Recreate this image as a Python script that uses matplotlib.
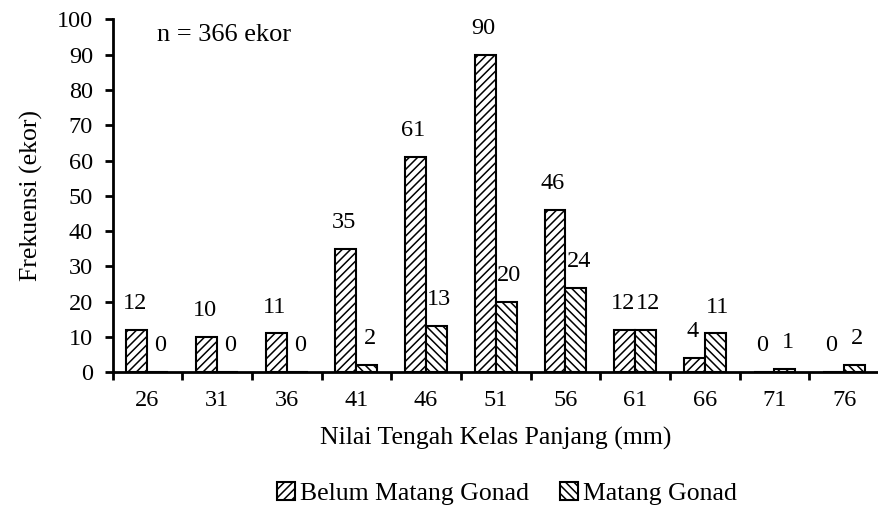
import numpy as np
import matplotlib
matplotlib.use('Agg')
import matplotlib.pyplot as plt

plt.rcParams['font.family'] = ['Liberation Serif', 'DejaVu Serif']
plt.rcParams['hatch.linewidth'] = 1.1

kelas = ['26', '31', '36', '41', '46', '51', '56', '61', '66', '71', '76']
belum_matang = [12, 10, 11, 35, 61, 90, 46, 12, 4, 0, 0]
matang = [0, 0, 0, 2, 13, 20, 24, 12, 11, 1, 2]

fig = plt.figure(figsize=(8.79, 5.12), dpi=100)
ax = fig.add_axes([0.128, 0.273, 0.872, 0.689])

x = np.arange(len(kelas))
w = 0.3
b1 = ax.bar(x - w / 2, belum_matang, w, facecolor='white', edgecolor='black',
            hatch='////', linewidth=1.5, label='Belum Matang Gonad')
b2 = ax.bar(x + w / 2, matang, w, facecolor='white', edgecolor='black',
            hatch='\\\\\\\\', linewidth=1.5, label='Matang Gonad')

fs = 17.5
for xi, v in zip(x, belum_matang):
    ax.text(xi - w / 2 - 0.03, v + 4.5, str(v), ha='center', va='bottom', fontsize=fs)
for xi, v in zip(x, matang):
    ax.text(xi + w / 2 + 0.04, v + 4.5, str(v), ha='center', va='bottom', fontsize=fs)

ax.set_xlim(-0.5, 10.45)
ax.set_ylim(0, 100)
ax.set_yticks(range(0, 101, 10))
ax.set_xticks(x)
ax.set_xticklabels(kelas, fontsize=fs)
ax.set_xticks(np.arange(-0.5, 10.6, 1), minor=True)
ax.tick_params(axis='x', which='major', length=0, pad=13)
ax.tick_params(axis='x', which='minor', length=6, width=2, direction='out')
ax.tick_params(axis='y', labelsize=fs, length=6, width=2, direction='out', pad=8)

for s in ['top', 'right']:
    ax.spines[s].set_visible(False)
for s in ['left', 'bottom']:
    ax.spines[s].set_linewidth(2)

ax.set_ylabel('Frekuensi (ekor)', fontsize=18.5, labelpad=10)
ax.set_xlabel('Nilai Tengah Kelas Panjang (mm)', fontsize=18.5, labelpad=11)

ax.text(0.058, 0.955, 'n = 366 ekor', transform=ax.transAxes, fontsize=19,
        ha='left', va='center')

fig.legend(handles=[b1, b2], loc='center', bbox_to_anchor=(0.577, 0.036),
           ncol=2, frameon=False, fontsize=18.5, handlelength=0.7,
           handleheight=0.7, handletextpad=0.2, columnspacing=1.2)

fig.savefig('out.png', dpi=100)
